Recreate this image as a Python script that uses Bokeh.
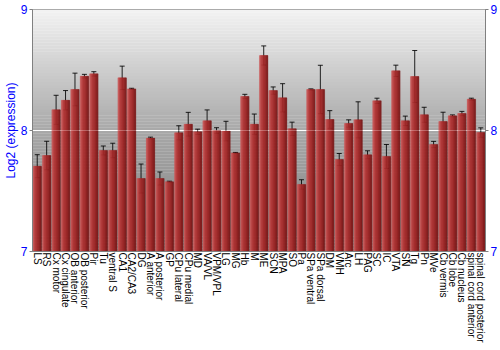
import math
import numpy as np
from bokeh.plotting import figure
from bokeh.models import (ColumnDataSource, FactorRange, Range1d, LinearAxis, FixedTicker,
                          Whisker, TeeHead, BoxAnnotation, Span)
from bokeh.transform import dodge
from bokeh.embed import file_html
from bokeh.resources import INLINE

regions = ["LS", "RS", "Cx motor", "Cx cingulate", "OB anterior", "OB posterior", "Pir", "Tu",
           "ventral S", "CA1", "CA2/CA3", "DG", "A anterior", "A posterior", "GP", "CPu lateral",
           "CPu medial", "MD", "VA/VL", "VPM/VPL", "LG", "MG", "Hb", "M", "ME", "SCN", "MPA", "SO",
           "Pa", "SPa ventral", "SPa dorsal", "DM", "VMH", "Arc", "LH", "PAG", "SC", "IC", "VTA",
           "SN", "Tg", "Pn", "MVe", "Cb vermis", "Cb lobe", "Cb nucleus", "spinal cord anterior",
           "spinal cord posterior"]

expression = [7.705, 7.793, 8.171, 8.250, 8.339, 8.449, 8.468, 7.835,
              7.835, 8.435, 8.344, 7.603, 7.937, 7.603, 7.576, 7.981,
              8.052, 7.989, 8.080, 8.000, 7.995, 7.815, 8.281, 8.052, 8.620, 8.330, 8.270, 8.014,
              7.554, 8.339, 8.339, 8.091, 7.760, 8.058, 8.088, 7.799, 8.245, 7.785, 8.493,
              8.080, 8.446, 8.130, 7.884, 8.074, 8.121, 8.140, 8.259,
              7.983]

errors = [0.095, 0.118, 0.120, 0.080, 0.135, 0.015, 0.018, 0.037,
          0.060, 0.097, 0.005, 0.120, 0.008, 0.054, 0.005, 0.058,
          0.098, 0.022, 0.090, 0.023, 0.081, 0.004, 0.018, 0.084, 0.079, 0.030, 0.117, 0.055,
          0.039, 0.005, 0.200, 0.073, 0.050, 0.030, 0.149, 0.033, 0.022, 0.099, 0.047,
          0.039, 0.215, 0.062, 0.026, 0.077, 0.008, 0.018, 0.008,
          0.039]

y_ticks = [7, 8, 9]
y_min, y_max = 7, 9

lower = [v - e for v, e in zip(expression, errors)]
upper = [v + e for v, e in zip(expression, errors)]
src = ColumnDataSource(dict(region=regions, expression=expression, lower=lower, upper=upper))

FONT = "Liberation Sans"

p = figure(x_range=FactorRange(factors=regions), y_range=Range1d(y_min, y_max),
           width=500, height=350, output_backend="svg", toolbar_location=None,
           min_border_left=27, min_border_right=13, min_border_top=9, min_border_bottom=99)
p.border_fill_color = "white"
p.outline_line_color = "#808080"
p.xgrid.visible = False
p.ygrid.visible = False


def hexcol(c):
    return "#%02x%02x%02x" % tuple(int(round(v)) for v in c)


# background vertical gradient
top_c = np.array([243, 243, 243])
mid_c = np.array([168, 168, 168])
bot_c = np.array([128, 128, 128])
n_strips = 80
for i in range(n_strips):
    y0 = y_min + (y_max - y_min) * i / n_strips
    y1 = y_min + (y_max - y_min) * (i + 1) / n_strips
    ym = 0.5 * (y0 + y1)
    if ym >= 8:
        t = ym - 8
        c = mid_c * (1 - t) + top_c * t
    else:
        t = ym - 7
        c = bot_c * (1 - t) + mid_c * t
    p.add_layout(BoxAnnotation(bottom=y0, top=y1 + 0.002, fill_color=hexcol(c), fill_alpha=1,
                               line_color=None, level="underlay"))

p.add_layout(Span(location=8, dimension="width", line_color="white", line_width=1.2,
                  level="underlay"))

# bars with horizontal gradient
bar_w = 0.9
n_sl = 14
stops = [(0.0, (208, 100, 100)), (0.3, (182, 56, 56)), (0.7, (156, 36, 36)), (1.0, (118, 22, 22))]


def grad(t):
    for (t0, c0), (t1, c1) in zip(stops[:-1], stops[1:]):
        if t0 <= t <= t1:
            u = (t - t0) / (t1 - t0)
            return [a * (1 - u) + b * u for a, b in zip(c0, c1)]
    return stops[-1][1]


sw = bar_w / n_sl
for i in range(n_sl):
    off = -bar_w / 2 + (i + 0.5) * sw
    col = hexcol(grad((i + 0.5) / n_sl))
    p.vbar(x=dodge("region", off, range=p.x_range), top="expression", bottom=y_min,
           width=sw * 1.15, source=src, fill_color=col, line_color=col, line_width=0.3)

p.add_layout(Span(location=8, dimension="width", line_color="white", line_width=1,
                  line_alpha=0.25))

wh = Whisker(source=src, base="region", upper="upper", lower="lower",
             line_color="black", line_alpha=0.85, line_width=1)
wh.upper_head = TeeHead(size=5, line_color="black", line_alpha=0.85, line_width=1)
wh.lower_head = TeeHead(size=5, line_color="black", line_alpha=0.85, line_width=1)
p.add_layout(wh)

# axes
ya = p.yaxis[0]
ya.ticker = FixedTicker(ticks=y_ticks)
ya.axis_label = "Log2 (expression)"
ya.axis_label_text_color = "#0000ff"
ya.axis_label_text_font = FONT
ya.axis_label_text_font_size = "12px"
ya.axis_label_text_font_style = "normal"
ya.axis_label_standoff = 0

ra = LinearAxis(ticker=FixedTicker(ticks=y_ticks))
p.add_layout(ra, "right")

for ax in [ya, ra]:
    ax.major_label_text_color = "#0000ff"
    ax.major_label_text_font = FONT
    ax.major_label_text_font_size = "12px"
    ax.major_label_standoff = 2
    ax.major_tick_out = 3
    ax.major_tick_in = 0
    ax.minor_tick_line_color = None
    ax.axis_line_color = "#808080"
    ax.major_tick_line_color = "#808080"

xa = p.xaxis[0]
xa.major_label_orientation = -math.pi / 2
xa.major_label_text_font = FONT
xa.major_label_text_font_size = "10px"
xa.major_label_text_color = "black"
xa.major_label_standoff = 1
xa.major_tick_line_color = None
xa.major_tick_out = 0
xa.minor_tick_line_color = None
xa.axis_line_color = "#808080"

open("out.html", "w").write(file_html(p, INLINE))
